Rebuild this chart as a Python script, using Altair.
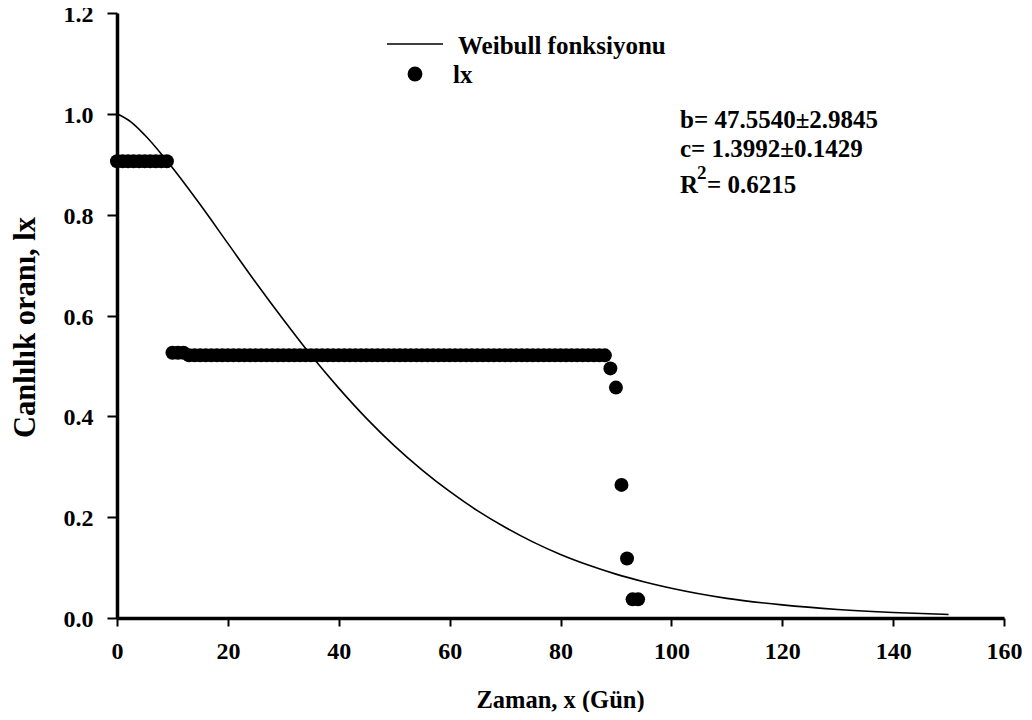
import altair as alt
import pandas as pd

# Observed survival proportions lx by day
lx_days = list(range(95))
lx_values = [0.906] * 10 + [0.526] * 3 + [0.521] * 76 + [0.495, 0.457, 0.264, 0.118, 0.037, 0.037]

# Weibull curve
weib_x = [0, 2.5, 5, 10, 15, 20, 25, 30, 35, 40, 45, 50, 55, 60, 65, 70, 75, 80, 85, 90, 95, 100, 110, 120, 130, 140, 150]
weib_y = [1.0, 0.984, 0.958, 0.893, 0.820, 0.743, 0.666, 0.592, 0.521, 0.456, 0.396, 0.342, 0.294, 0.251, 0.213, 0.180, 0.151, 0.126, 0.105, 0.087, 0.072, 0.059, 0.039, 0.026, 0.017, 0.011, 0.007]

x_ticks = [0, 20, 40, 60, 80, 100, 120, 140, 160]
y_ticks = [0.0, 0.2, 0.4, 0.6, 0.8, 1.0, 1.2]

legend_labels = ["Weibull fonksiyonu", "lx"]
annot_lines = ["b= 47.5540\u00b12.9845", "c= 1.3992\u00b10.1429", "R", "2", "= 0.6215"]

FONT = "Liberation Serif"

df_lx = pd.DataFrame({"day": lx_days, "lx": lx_values})
df_w = pd.DataFrame({"x": weib_x, "y": weib_y})
one = pd.DataFrame({"a": [0]})

xscale = alt.Scale(domain=[0, 160], nice=False)
yscale = alt.Scale(domain=[0, 1.2], nice=False)

xaxis = alt.Axis(
    title="Zaman, x (Gün)", values=x_ticks, format="d", grid=False,
    domainColor="black", domainWidth=3.5, tickColor="black", tickWidth=2, tickSize=8,
    labelFont=FONT, labelFontSize=24, labelFontWeight="bold", labelColor="black",
    labelBaseline="alphabetic", labelPadding=32, labelFlush=False, labelOverlap=False,
    titleFont=FONT, titleFontSize=24.5, titleFontWeight="bold", titleColor="black",
    titleX=443, titleY=89, titleBaseline="alphabetic", titleAlign="center",
)
yaxis = alt.Axis(
    title="Canlılık oranı, lx", values=y_ticks, format=".1f", grid=False,
    domainColor="black", domainWidth=3.5, tickColor="black", tickWidth=2, tickSize=10,
    labelFont=FONT, labelFontSize=24, labelFontWeight="bold", labelColor="black",
    labelPadding=14, labelFlush=False, labelOverlap=False, labelBaseline="middle", labelOffset=1.5,
    titleFont=FONT, titleFontSize=30.5, titleFontWeight="bold", titleColor="black",
    titleX=-83, titleY=314, titleBaseline="alphabetic", titleAlign="center", titleAngle=270,
)

curve = alt.Chart(df_w).mark_line(color="black", strokeWidth=1.6, interpolate="monotone").encode(
    x=alt.X("x:Q", scale=xscale, axis=xaxis),
    y=alt.Y("y:Q", scale=yscale, axis=yaxis),
)

points = alt.Chart(df_lx).mark_circle(color="black", size=195, opacity=1).encode(
    x=alt.X("day:Q", scale=xscale),
    y=alt.Y("lx:Q", scale=yscale),
)

def txt(s, x, y, size=25):
    return alt.Chart(one).mark_text(
        font=FONT, fontSize=size, fontWeight="bold", color="black",
        align="left", baseline="alphabetic",
    ).encode(x=alt.value(x), y=alt.value(y), text=alt.value(s))

leg_line = alt.Chart(one).mark_rule(color="black", strokeWidth=1.6).encode(
    x=alt.value(270), x2=alt.value(326), y=alt.value(31)
)
leg_dot = alt.Chart(one).mark_circle(color="black", size=220, opacity=1).encode(
    x=alt.value(298), y=alt.value(61)
)

chart = alt.layer(
    curve, points,
    leg_line, leg_dot,
    txt(legend_labels[0], 341, 41),
    txt(legend_labels[1], 336, 70),
    txt(annot_lines[0], 563, 115),
    txt(annot_lines[1], 563, 144),
    txt(annot_lines[2], 563, 180),
    txt(annot_lines[3], 580, 166, 19),
    txt(annot_lines[4], 590, 180),
).properties(
    width=887, height=605,
    autosize=alt.AutoSizeParams(type="none"),
    padding={"left": 109, "top": 5, "right": 20, "bottom": 94},
    background="white",
).configure_view(stroke=None)

chart.save("out.html", embed_options={"renderer": "svg", "actions": False})
